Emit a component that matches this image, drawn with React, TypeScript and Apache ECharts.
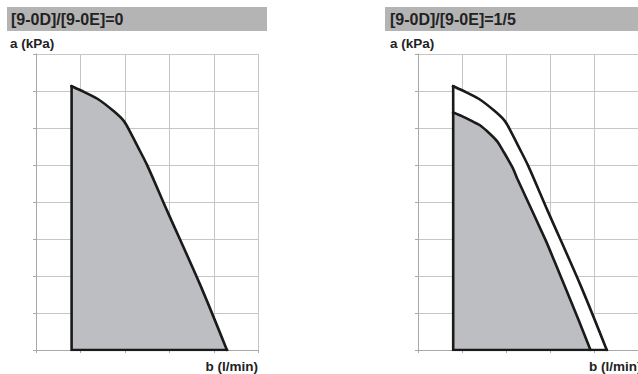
import React, { useEffect, useRef } from "react";
import * as echarts from "echarts";

// Outer limit curve ([9-0D]/[9-0E]=0), grid units
const outerX = [0.8, 1.0, 1.38, 1.75, 1.98, 2.13, 2.28, 2.5, 2.94, 3.69, 4.29];
const outerY = [7.13, 7.02, 6.79, 6.45, 6.18, 5.86, 5.51, 4.99, 3.78, 1.76, 0];

// Inner limit curve ([9-0D]/[9-0E]=1/5)
const innerX = [0.8, 1.0, 1.25, 1.4, 1.62, 1.8, 1.92, 2.15, 2.26, 2.9, 3.09, 3.65, 3.92];
const innerY = [6.42, 6.32, 6.17, 6.08, 5.86, 5.64, 5.41, 4.93, 4.62, 2.97, 2.43, 0.81, 0];

// Straight edges: left vertical edge and bottom edge
const edgeX = [0.8, 0.8, 4.29];
const edgeY = [7.13, 0, 0];

const titles = ["[9-0D]/[9-0E]=0", "[9-0D]/[9-0E]=1/5"];
const yName = "a (kPa)";
const xName = "b (l/min)";

const xMax = 5;
const yMax = 8;

const pair = (xs: number[], ys: number[]) => xs.map((x, i) => [x, ys[i]]);

export default function App() {
  const ref = useRef<HTMLDivElement>(null);
  useEffect(() => {
    if (!ref.current) return;
    const chart = echarts.init(ref.current, null, { renderer: "svg" });
    const font = "Liberation Sans, Arial, sans-serif";
    const gridColor = "#c6c6c6";
    const axisColor = "#a8a8a8";
    const stroke = "#1a1a1a";
    const mkX = (gi: number) => ({
      type: "value",
      gridIndex: gi,
      min: 0,
      max: xMax,
      interval: 1,
      axisLine: { show: true, lineStyle: { color: axisColor, width: 1 } },
      axisTick: { show: true, length: 3, lineStyle: { color: axisColor } },
      axisLabel: { show: false },
      splitLine: { show: true, lineStyle: { color: gridColor, width: 1 } },
    });
    const mkY = (gi: number) => ({
      type: "value",
      gridIndex: gi,
      min: 0,
      max: yMax,
      interval: 1,
      axisLine: { show: true, lineStyle: { color: axisColor, width: 1 } },
      axisTick: { show: true, length: 3, lineStyle: { color: axisColor } },
      axisLabel: { show: false },
      splitLine: { show: true, lineStyle: { color: gridColor, width: 1 } },
    });
    const curve = (gi: number, data: number[][], fill: string, z: number) => ({
      type: "line",
      xAxisIndex: gi,
      yAxisIndex: gi,
      data,
      symbol: "none",
      smooth: 0.3,
      z,
      lineStyle: { color: stroke, width: 2.6, cap: "square" },
      areaStyle: { color: fill, opacity: 1, origin: "start" },
      silent: true,
    });
    const edges = (gi: number) => ({
      type: "line",
      xAxisIndex: gi,
      yAxisIndex: gi,
      data: pair(edgeX, edgeY),
      symbol: "none",
      z: 5,
      lineStyle: { color: stroke, width: 2.6, join: "miter", cap: "square" },
      silent: true,
    });
    const text = (x: number, y: number, t: string, size: number, align = "left") => ({
      type: "text",
      x,
      y,
      style: {
        text: t,
        fill: "#222",
        font: `bold ${size}px ${font}`,
        textAlign: align,
        textVerticalAlign: "middle",
      },
      z: 10,
    });
    chart.setOption({
      animation: false,
      grid: [
        { left: 36, top: 54, width: 222.5, height: 296 },
        { left: 418, top: 54, width: 222.5, height: 296 },
      ],
      xAxis: [mkX(0), mkX(1)],
      yAxis: [mkY(0), mkY(1)],
      series: [
        curve(0, pair(outerX, outerY), "#bdbec1", 2),
        edges(0),
        curve(1, pair(outerX, outerY), "#ffffff", 2),
        curve(1, pair(innerX, innerY), "#bdbec1", 3),
        edges(1),
      ],
      graphic: [
        { type: "rect", shape: { x: 7, y: 7, width: 260, height: 24 }, style: { fill: "#b4b4b4" }, z: 5 },
        { type: "rect", shape: { x: 385, y: 7, width: 260, height: 24 }, style: { fill: "#b4b4b4" }, z: 5 },
        text(11, 19.5, titles[0], 16),
        text(390, 19.5, titles[1], 16),
        text(10, 43, yName, 13.5),
        text(390, 43, yName, 13.5),
        text(258, 366, xName, 13.5, "right"),
        text(589, 366, xName, 13.5, "left"),
      ],
    });
    return () => chart.dispose();
  }, []);
  return (
    <div
      ref={ref}
      style={{ position: "absolute", left: 0, top: 0, width: 638, height: 374, background: "#fff" }}
    />
  );
}
